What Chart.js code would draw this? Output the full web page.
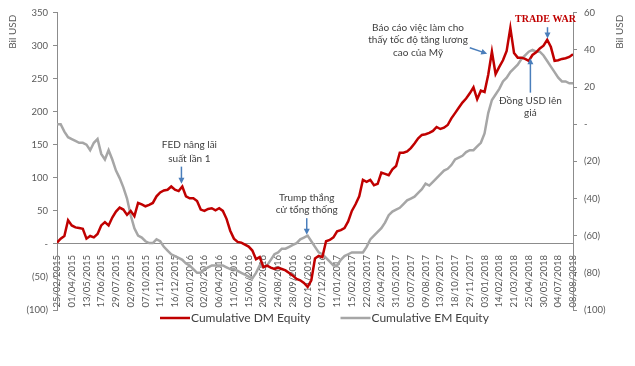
<!DOCTYPE html>
<html>
<head>
<meta charset="utf-8">
<script src="https://cdn.jsdelivr.net/npm/chart.js@4.4.1/dist/chart.umd.min.js"></script>
<style>
  html, body { margin: 0; padding: 0; background: #fff; }
  #wrap { width: 635px; height: 366px; }
</style>
</head>
<body>
<div id="wrap"><canvas id="chart"></canvas></div>
<script>
// Tick labels on the date axis (one every 5 weeks)
const tickLabels = [
  "25/02/2015", "01/04/2015", "13/05/2015", "17/06/2015", "29/07/2015", "02/09/2015",
  "07/10/2015", "11/11/2015", "16/12/2015", "20/01/2016", "02/03/2016", "06/04/2016",
  "11/05/2016", "15/06/2016", "20/07/2016", "24/08/2016", "28/09/2016", "02/11/2016",
  "07/12/2016", "11/01/2017", "15/02/2017", "22/03/2017", "26/04/2017", "31/05/2017",
  "05/07/2017", "09/08/2017", "13/09/2017", "18/10/2017", "29/11/2017", "03/01/2018",
  "14/02/2018", "21/03/2018", "25/04/2018", "30/05/2018", "04/07/2018", "08/08/2018"
];

// readings every quarter of a tick step (Bil USD)
const dmEquity = [
  2, 8, 12, 36, 28, 25, 24, 23, 8, 12, 10, 15, 28, 33, 28, 40, 49, 55, 52, 44,
  50, 42, 62, 60, 57, 59, 62, 72, 78, 81, 82, 87, 82, 80, 87, 72, 69, 69, 65, 52,
  50, 53, 54, 51, 54, 50, 38, 20, 8, 3, 2, -1, -4, -10, -23, -20, -35, -33, -36, -38,
  -36, -38, -40, -44, -48, -53, -55, -59, -65, -55, -22, -18, -20, 4, 6, 10, 19, 21, 24, 34,
  50, 60, 72, 97, 94, 97, 89, 91, 108, 106, 104, 113, 118, 138, 138, 140, 145, 152, 160, 165,
  166, 168, 171, 177, 174, 176, 180, 190, 198, 206, 214, 220, 228, 237, 219, 232, 230, 256, 291, 257,
  268, 278, 292, 327, 289, 282, 282, 280, 277, 286, 290, 296, 300, 309, 298, 277, 278, 280, 281, 283,
  287
];

const emEquity = [
  0, 0, -4, -7, -8, -9, -10, -10, -11, -14, -10, -8, -16, -19, -14, -19, -25, -29, -34, -40,
  -49, -56, -60, -61, -63, -64, -64, -62, -63, -66, -68, -70, -71, -72, -73, -75, -76, -78, -80, -80,
  -78, -77, -76, -76, -76, -76, -77, -78, -78, -79, -80, -81, -82, -83, -80, -76, -77, -76, -73, -70,
  -69, -67, -67, -66, -65, -64, -62, -61, -60, -63, -66, -69, -70, -72, -74, -76, -76, -73, -71, -70,
  -69, -69, -69, -69, -66, -62, -60, -58, -56, -53, -49, -47, -46, -45, -43, -41, -40, -39, -37, -35,
  -32, -33, -31, -29, -27, -25, -24, -22, -19, -18, -17, -15, -14, -14, -12, -10, -5, 6, 13, 16,
  19, 23, 25, 28, 30, 32, 35, 37, 39, 40, 39, 39, 37, 34, 31, 28, 25, 23, 23, 22,
  22
];

const leftTicks = { min: -100, max: 350, step: 50 };
const rightTicks = { min: -100, max: 60, step: 20 };

const FONT = "Lato, 'Open Sans', sans-serif";
const AXIS_GREY = "#8c8c8c";
const TEXT_GREY = "#595959";

function toPoints(values) {
  return values.map((v, i) => ({ x: i / 4, y: v }));
}

function accounting(v) {
  if (v === 0) return "-";
  if (v < 0) return "(" + Math.abs(v) + ")";
  return String(v);
}

// text notes with arrows, in (tick step, left axis value) units
const notes = [
  { lines: ["FED nâng lãi", "suất lần 1"], x: 8.98, y: [150, 129], arrow: [8.44, 117, 8.44, 91] },
  { lines: ["Trump thắng", "cử tổng thống"], x: 16.94, y: [70, 51], arrow: [16.94, 39, 16.94, 14] },
  { lines: ["Báo cáo việc làm cho", "thấy tốc độ tăng lương", "cao của Mỹ"], x: 24.49, y: [327, 309, 290], arrow: [28.0, 297, 29.18, 288] },
  { lines: ["TRADE WAR"], x: 33.13, y: [340], arrow: [33.27, 328, 33.27, 311], red: true },
  { lines: ["Đồng USD lên", "giá"], x: 32.11, y: [217, 198], arrow: [32.11, 229, 32.11, 281] }
];

function drawArrow(ctx, x1, y1, x2, y2) {
  const ang = Math.atan2(y2 - y1, x2 - x1);
  const head = 6;
  ctx.beginPath();
  ctx.moveTo(x1, y1);
  ctx.lineTo(x2 - Math.cos(ang) * head * 0.8, y2 - Math.sin(ang) * head * 0.8);
  ctx.stroke();
  ctx.beginPath();
  ctx.moveTo(x2, y2);
  ctx.lineTo(x2 - head * Math.cos(ang) + 3 * Math.sin(ang), y2 - head * Math.sin(ang) - 3 * Math.cos(ang));
  ctx.lineTo(x2 - head * Math.cos(ang) - 3 * Math.sin(ang), y2 - head * Math.sin(ang) + 3 * Math.cos(ang));
  ctx.closePath();
  ctx.fill();
}

const extrasPlugin = {
  id: "extras",
  afterDraw(chart) {
    const ctx = chart.ctx;
    const xs = chart.scales.x;
    const ys = chart.scales.y;
    const area = chart.chartArea;
    ctx.save();

    // axis titles
    ctx.fillStyle = TEXT_GREY;
    ctx.font = "10px " + FONT;
    ctx.textAlign = "right";
    ctx.textBaseline = "middle";
    [13, 620].forEach((px) => {
      ctx.save();
      ctx.translate(px, area.top + 2);
      ctx.rotate(-Math.PI / 2);
      ctx.fillText("Bil USD", 0, 0);
      ctx.restore();
    });

    // notes
    notes.forEach((n) => {
      ctx.textAlign = "center";
      ctx.textBaseline = "middle";
      if (n.red) {
        ctx.font = "bold 10px 'Liberation Serif', serif";
        ctx.fillStyle = "#c00000";
      } else {
        ctx.font = "10px " + FONT;
        ctx.fillStyle = "#404040";
      }
      n.lines.forEach((t, i) => {
        ctx.fillText(t, xs.getPixelForValue(n.x), ys.getPixelForValue(n.y[i]));
      });
      const a = n.arrow;
      ctx.strokeStyle = "#4a7ebb";
      ctx.fillStyle = "#4a7ebb";
      ctx.lineWidth = 1.5;
      drawArrow(ctx, xs.getPixelForValue(a[0]), ys.getPixelForValue(a[1]),
        xs.getPixelForValue(a[2]), ys.getPixelForValue(a[3]));
    });

    // legend
    ctx.font = "12px " + FONT;
    ctx.textAlign = "left";
    ctx.textBaseline = "middle";
    const ly = 318;
    let lx = 160;
    chart.data.datasets.forEach((ds) => {
      ctx.strokeStyle = ds.borderColor;
      ctx.lineWidth = 2.5;
      ctx.beginPath();
      ctx.moveTo(lx, ly);
      ctx.lineTo(lx + 30, ly);
      ctx.stroke();
      ctx.fillStyle = "#404040";
      ctx.fillText(ds.label, lx + 31, ly);
      lx += 31 + ctx.measureText(ds.label).width + 30;
    });
    ctx.restore();
  }
};

new Chart(document.getElementById("chart"), {
  type: "line",
  data: {
    datasets: [
      {
        label: "Cumulative DM Equity",
        data: toPoints(dmEquity),
        yAxisID: "y",
        borderColor: "#c00000",
        backgroundColor: "#c00000",
        borderWidth: 2.5,
        pointRadius: 0,
        tension: 0
      },
      {
        label: "Cumulative EM Equity",
        data: toPoints(emEquity),
        yAxisID: "y1",
        borderColor: "#a6a6a6",
        backgroundColor: "#a6a6a6",
        borderWidth: 2.5,
        pointRadius: 0,
        tension: 0
      }
    ]
  },
  options: {
    responsive: true,
    maintainAspectRatio: false,
    animation: false,
    layout: { padding: { top: 10, bottom: 56, left: 0, right: 0 } },
    plugins: {
      legend: { display: false },
      tooltip: { enabled: false }
    },
    scales: {
      x: {
        type: "linear",
        position: { y: 0 },
        min: 0,
        max: tickLabels.length - 1,
        grid: { display: false },
        border: { display: true, color: AXIS_GREY, width: 1 },
        ticks: {
          stepSize: 1,
          autoSkip: false,
          maxRotation: 90,
          minRotation: 90,
          padding: 3,
          color: TEXT_GREY,
          font: { family: FONT, size: 9.5 },
          callback: (v) => tickLabels[v] || ""
        }
      },
      y: {
        position: "left",
        min: leftTicks.min,
        max: leftTicks.max,
        afterFit: (s) => { s.width = 57; },
        grid: { drawOnChartArea: false, drawTicks: true, tickLength: 4, color: AXIS_GREY },
        border: { display: true, color: AXIS_GREY },
        ticks: {
          stepSize: leftTicks.step,
          padding: 5,
          color: TEXT_GREY,
          font: { family: FONT, size: 9.5 },
          callback: accounting
        }
      },
      y1: {
        position: "right",
        min: rightTicks.min,
        max: rightTicks.max,
        afterFit: (s) => { s.width = 62; },
        grid: { drawOnChartArea: false, drawTicks: true, tickLength: 4, color: AXIS_GREY },
        border: { display: true, color: AXIS_GREY },
        ticks: {
          stepSize: rightTicks.step,
          padding: 7,
          color: TEXT_GREY,
          font: { family: FONT, size: 9.5 },
          callback: accounting
        }
      }
    }
  },
  plugins: [extrasPlugin]
});
</script>
</body>
</html>
